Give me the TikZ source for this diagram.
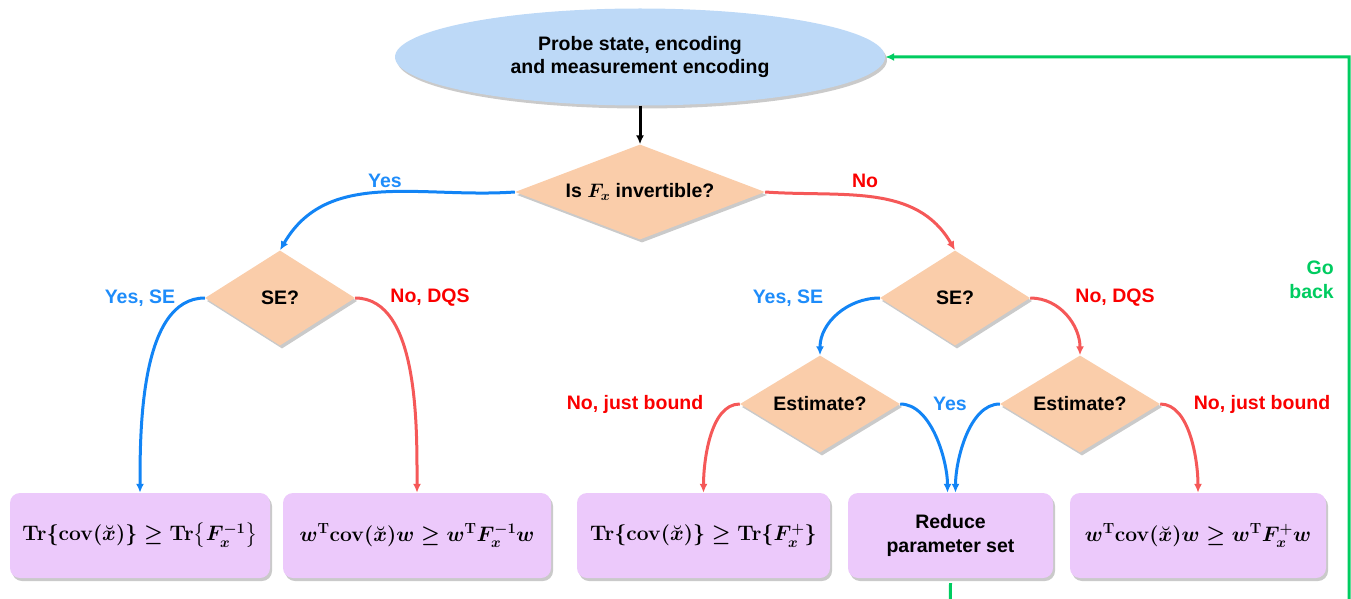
\RequirePackage{fix-cm}
\documentclass[tikz,border=0pt]{standalone}
\usepackage{amsmath}
\usepackage[no-math]{fontspec}
\setmainfont{Liberation Sans}
\usetikzlibrary{shapes.geometric,arrows.meta,shadows}

\definecolor{ellblue}{RGB}{189,217,247}
\definecolor{peach}{RGB}{250,205,170}
\definecolor{lilac}{RGB}{236,201,251}
\definecolor{arrblue}{RGB}{18,132,245}
\definecolor{arrred}{RGB}{245,88,88}
\definecolor{txtblue}{RGB}{30,140,250}
\definecolor{txtred}{RGB}{250,0,0}
\definecolor{gogreen}{RGB}{0,204,96}

\newcommand{\flowfont}{\fontsize{19.5}{23.5}\selectfont\bfseries}
\newcommand{\mathfont}{\fontsize{21}{25}\selectfont\boldmath}

\tikzset{
	softshadow/.style={drop shadow={shadow xshift=2pt, shadow yshift=-3pt, opacity=0.35, fill=black!60}},
	startnode/.style={ellipse, fill=ellblue, minimum width=490pt, minimum height=97pt, inner sep=0pt, align=center, font=\flowfont, softshadow},
	decide/.style={diamond, fill=peach, inner sep=0pt, font=\flowfont, softshadow},
	result/.style={rectangle, rounded corners=10pt, fill=lilac, minimum height=85pt, inner sep=0pt, align=center, softshadow},
	lbl/.style={font=\flowfont, inner sep=0pt},
	flow/.style={line width=3pt, -{Latex[length=9pt,width=8pt]}},
}

\begin{document}
\begin{tikzpicture}[x=1pt, y=1pt]
	\useasboundingbox (0,0) rectangle (1351,-599);

	% nodes
	\node[startnode] (probe) at (640,-57) {Probe state, encoding\\and measurement encoding};
	\node[decide, aspect=2.63, minimum width=250pt, minimum height=95pt] (inv) at (640,-192) {Is $\boldsymbol{F_x}$ invertible?};
	\node[decide, aspect=1.58, minimum width=150pt, minimum height=95pt] (seL) at (280,-298) {SE?};
	\node[decide, aspect=1.58, minimum width=150pt, minimum height=95pt] (seR) at (955,-298) {SE?};
	\node[decide, aspect=1.65, minimum width=160pt, minimum height=97pt] (estL) at (820,-404) {Estimate?};
	\node[decide, aspect=1.65, minimum width=160pt, minimum height=97pt] (estR) at (1080,-404) {Estimate?};

	\node[result, minimum width=260pt, font=\mathfont] (trinv) at (140,-535.5)
		{$\mathbf{Tr}\{\mathbf{cov}(\breve{x})\}\geq\mathbf{Tr}\bigl\{F_x^{-1}\bigr\}$};
	\node[result, minimum width=268pt, font=\mathfont] (winv) at (417,-535.5)
		{$w^{\mathrm{T}}\mathbf{cov}(\breve{x})w\geq w^{\mathrm{T}}F_x^{-1}w$};
	\node[result, minimum width=253pt, font=\mathfont] (trpin) at (703.5,-535.5)
		{$\mathbf{Tr}\{\mathbf{cov}(\breve{x})\}\geq\mathbf{Tr}\{F_x^{+}\}$};
	\node[result, minimum width=205pt, font=\flowfont] (reduce) at (950.5,-535.5) {Reduce\\parameter set};
	\node[result, minimum width=256pt, font=\mathfont] (wpin) at (1198,-535.5)
		{$w^{\mathrm{T}}\mathbf{cov}(\breve{x})w\geq w^{\mathrm{T}}F_x^{+}w$};

	% labels
	\node[lbl, text=txtblue] (yesinv) at (385,-181) {Yes};
	\node[lbl, text=txtred] (noinv) at (865,-181) {No};
	\node[lbl, text=txtblue] (yesseL) at (140,-298) {Yes, SE};
	\node[lbl, text=txtred] (noseL) at (430,-298) {No, DQS};
	\node[lbl, text=txtblue] (yesseR) at (788,-298) {Yes, SE};
	\node[lbl, text=txtred] (noseR) at (1115,-298) {No, DQS};
	\node[lbl, text=txtred] (boundL) at (635,-404) {No, just bound};
	\node[lbl, text=txtblue] (yesest) at (950,-404) {Yes};
	\node[lbl, text=txtred] (boundR) at (1262,-404) {No, just bound};
	\node[lbl, text=gogreen, align=right, anchor=east] (goback) at (1334,-280) {Go\\back};

	% connectors
	\draw[flow, black] (probe.south) -- (inv.north);
	\draw[flow, arrblue] (inv.west) to[out=184, in=60] (seL.north);
	\draw[flow, arrred] (inv.east) to[out=-4, in=120] (seR.north);

	\draw[flow, arrblue] (seL.west) to[out=180, in=90, looseness=0.8] (trinv.north);
	\draw[flow, arrred] (seL.east) to[out=0, in=90, looseness=0.8] (winv.north);

	\draw[flow, arrblue] (seR.west) to[out=180, in=90] (estL.north);
	\draw[flow, arrred] (seR.east) to[out=0, in=90] (estR.north);

	\draw[flow, arrred] (estL.west) to[out=180, in=90, looseness=0.8] (trpin.north);
	\draw[flow, arrblue] (estL.east) to[out=0, in=90, looseness=0.8] ([xshift=-3pt]reduce.north);
	\draw[flow, arrblue] (estR.west) to[out=180, in=90, looseness=0.8] ([xshift=5pt]reduce.north);
	\draw[flow, arrred] (estR.east) to[out=0, in=90, looseness=0.8] (wpin.north);

	% go back loop
	\coordinate (loopA) at (950,-625);
	\coordinate (loopB) at (1349,-625);
	\coordinate (loopC) at (1349,-57);
	\draw[flow, gogreen, rounded corners=0pt] ([yshift=-5pt]reduce.south) -- (loopA) -- (loopB) -- (loopC) -- (probe.east);
\end{tikzpicture}
\end{document}
